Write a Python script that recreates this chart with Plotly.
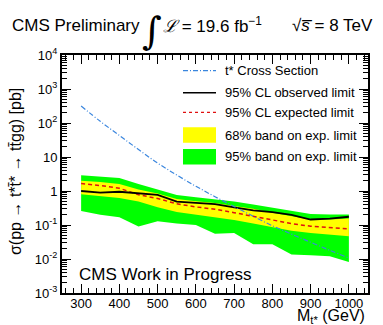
import plotly.graph_objects as go

# ---------------- data ----------------
mass = [300, 350, 400, 450, 500, 550, 600, 650, 700, 750, 800, 850, 900, 950, 1000]
observed = [1.0, 0.9, 0.95, 0.85, 0.77, 0.49, 0.45, 0.41, 0.33, 0.27, 0.24, 0.20, 0.145, 0.155, 0.175]
expected = [1.65, 1.45, 1.2, 0.78, 0.6, 0.42, 0.34, 0.29, 0.23, 0.18, 0.14, 0.11, 0.092, 0.085, 0.077]
band68_up = [2.0, 1.85, 1.6, 1.1, 0.85, 0.58, 0.5, 0.44, 0.36, 0.30, 0.23, 0.185, 0.145, 0.145, 0.155]
band68_dn = [0.8, 0.72, 0.62, 0.49, 0.33, 0.24, 0.2, 0.17, 0.14, 0.11, 0.085, 0.068, 0.058, 0.052, 0.047]
band95_up = [2.9, 2.7, 2.4, 1.6, 1.1, 0.76, 0.65, 0.57, 0.49, 0.40, 0.32, 0.26, 0.21, 0.205, 0.205]
band95_dn = [0.26, 0.2, 0.17, 0.09, 0.13, 0.11, 0.10, 0.055, 0.058, 0.027, 0.027, 0.0135, 0.013, 0.012, 0.0081]
xsec = [316, 112, 43, 16.6, 6.6, 2.95, 1.38, 0.68, 0.35, 0.18, 0.095, 0.054, 0.031, 0.018, 0.0107]

x_ticks = [300, 400, 500, 600, 700, 800, 900, 1000]
y_tickvals = [1e-3, 1e-2, 1e-1, 1, 10, 100, 1000, 10000]
y_ticktext = ["10<sup>-3</sup>", "10<sup>-2</sup>", "10<sup>-1</sup>", "1", "10",
              "10<sup>2</sup>", "10<sup>3</sup>", "10<sup>4</sup>"]
legend_labels = ["t* Cross Section", "95% CL observed limit", "95% CL expected limit",
                 "68% band on exp. limit", "95% band on exp. limit"]

# ---------------- layout geometry ----------------
W, H = 383, 325
L, R, T, B = 62, 15, 55, 32
PW, PH = W - L - R, H - T - B


def xp(px):
    return (px - L) / PW


def yp(py):
    return (H - B - py) / PH


FONT = "Liberation Sans, Arial, Helvetica, sans-serif"
BLUE = "#3a86de"
RED = "#e01010"

fig = go.Figure()

# 95% band
fig.add_trace(go.Scatter(x=mass + mass[::-1], y=band95_up + band95_dn[::-1],
                         fill="toself", fillcolor="#00ff00", line=dict(width=0),
                         mode="lines", hoverinfo="skip", showlegend=False))
# 68% band
fig.add_trace(go.Scatter(x=mass + mass[::-1], y=band68_up + band68_dn[::-1],
                         fill="toself", fillcolor="#ffff00", line=dict(width=0),
                         mode="lines", hoverinfo="skip", showlegend=False))
# expected
fig.add_trace(go.Scatter(x=mass, y=expected, mode="lines",
                         line=dict(color=RED, width=1.5, dash="4px,3px"), showlegend=False))
# observed
fig.add_trace(go.Scatter(x=mass, y=observed, mode="lines",
                         line=dict(color="black", width=1.8), showlegend=False))
# cross section
fig.add_trace(go.Scatter(x=mass, y=xsec, mode="lines", line_shape="spline",
                         line=dict(color=BLUE, width=1.2, dash="5px,2px,1px,2px"), showlegend=False))

fig.update_layout(
    width=W, height=H,
    margin=dict(l=L, r=R, t=T, b=B, autoexpand=False),
    paper_bgcolor="white", plot_bgcolor="white",
    font=dict(family=FONT, color="black", size=13),
    showlegend=False,
    xaxis=dict(range=[250, 1050], tickmode="array", tickvals=x_ticks,
               ticks="inside", ticklen=9, tickwidth=1, tickcolor="black",
               showline=True, linewidth=2, linecolor="black", mirror="allticks",
               showgrid=False, zeroline=False, automargin=False,
               ticklabelstandoff=-3,
               tickfont=dict(size=13, family=FONT),
               minor=dict(ticks="inside", ticklen=5, dtick=20, tick0=0,
                          tickcolor="black", showgrid=False)),
    yaxis=dict(type="log", range=[-3, 4], tickmode="array", tickvals=y_tickvals,
               ticktext=y_ticktext,
               ticks="inside", ticklen=9, tickwidth=1, tickcolor="black",
               showline=True, linewidth=2, linecolor="black", mirror="allticks",
               showgrid=False, zeroline=False, automargin=False,
               tickfont=dict(size=13, family=FONT),
               minor=dict(ticks="inside", ticklen=5, tickmode="array",
                          tickvals=[k * 10 ** e for e in range(-3, 4) for k in range(2, 10)],
                          tickcolor="black", showgrid=False)),
)

ann = []
shapes = []

# Title pieces
ann.append(dict(text="CMS Preliminary", x=xp(10), y=yp(25), xref="paper", yref="paper",
                xanchor="left", yanchor="middle", showarrow=False,
                font=dict(size=17, family=FONT)))
ann.append(dict(text="∫", x=xp(152), y=yp(31), xref="paper", yref="paper",
                xanchor="center", yanchor="middle", showarrow=False,
                font=dict(size=38, family="DejaVu Serif")))
ann.append(dict(text="<i>ℒ</i> = 19.6 fb<sup>−1</sup>", x=xp(161), y=yp(25), xref="paper",
                yref="paper", xanchor="left", yanchor="middle", showarrow=False,
                font=dict(size=17, family=FONT)))
ann.append(dict(text="√<i>s̅</i> = 8 TeV", x=xp(290), y=yp(25), xref="paper",
                yref="paper", xanchor="left", yanchor="middle", showarrow=False,
                font=dict(size=17, family=FONT)))

# Axis titles
ann.append(dict(text="σ(pp → t*t̄* → tt̄gg) [pb]", x=xp(15), y=yp(172), xref="paper",
                yref="paper", xanchor="center", yanchor="middle", textangle=-90,
                showarrow=False, font=dict(size=16, family=FONT)))
ann.append(dict(text="M<sub>t*</sub> (GeV)", x=xp(367), y=yp(316), xref="paper",
                yref="paper", xanchor="right", yanchor="middle", showarrow=False,
                font=dict(size=16, family=FONT)))

# Inside label
ann.append(dict(text="CMS Work in Progress", x=xp(77), y=yp(274), xref="paper",
                yref="paper", xanchor="left", yanchor="middle", showarrow=False,
                font=dict(size=17, family=FONT)))

# Legend
rows = [70.7, 92.7, 112.3, 135, 156.7]
x0, x1 = xp(183), xp(216)
shapes.append(dict(type="line", xref="paper", yref="paper", x0=x0, x1=x1, y0=yp(rows[0]), y1=yp(rows[0]),
                   line=dict(color=BLUE, width=1.2, dash="5px,2px,1px,2px")))
shapes.append(dict(type="line", xref="paper", yref="paper", x0=x0, x1=x1, y0=yp(rows[1]), y1=yp(rows[1]),
                   line=dict(color="black", width=1.5)))
shapes.append(dict(type="line", xref="paper", yref="paper", x0=x0, x1=x1, y0=yp(rows[2]), y1=yp(rows[2]),
                   line=dict(color=RED, width=1.2, dash="3px,3px")))
shapes.append(dict(type="rect", xref="paper", yref="paper", x0=x0, x1=x1, y0=yp(rows[3] - 7.7),
                   y1=yp(rows[3] + 7.7), fillcolor="#ffff00", line=dict(width=0)))
shapes.append(dict(type="rect", xref="paper", yref="paper", x0=x0, x1=x1, y0=yp(rows[4] - 7.7),
                   y1=yp(rows[4] + 7.7), fillcolor="#00ff00", line=dict(width=0)))
for lab, ry in zip(legend_labels, rows):
    ann.append(dict(text=lab, x=xp(223), y=yp(ry), xref="paper", yref="paper",
                    xanchor="left", yanchor="middle", showarrow=False,
                    font=dict(size=13, family=FONT)))

fig.update_layout(annotations=ann, shapes=shapes)
fig.write_html("out.html", config={"displayModeBar": False},
               post_script="document.body.style.margin='0px';")
